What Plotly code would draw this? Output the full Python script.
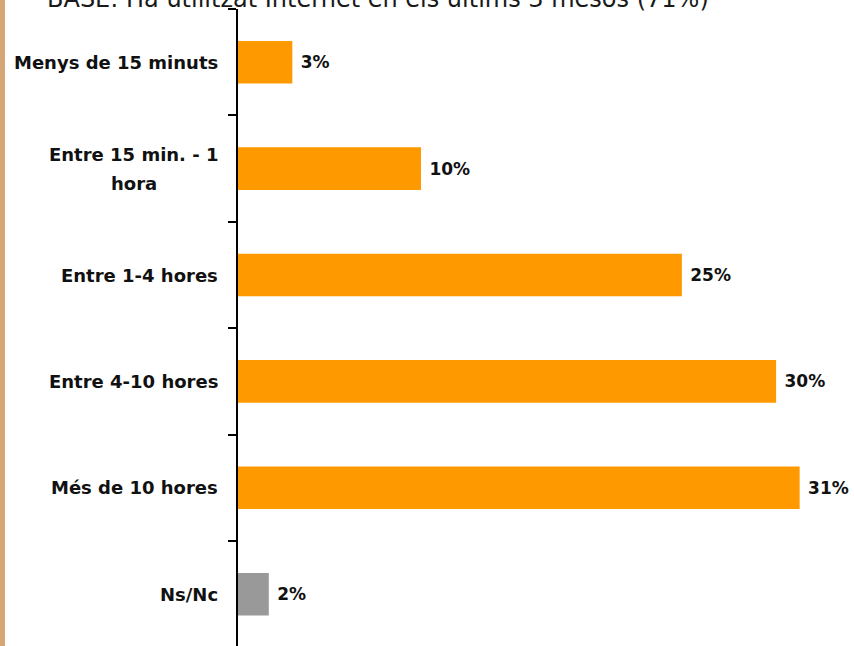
import plotly.graph_objects as go

categories = ["Menys de 15 minuts", "Entre 15 min. - 1<br>hora", "Entre 1-4 hores",
              "Entre 4-10 hores", "Més de 10 hores", "Ns/Nc"]
values = [3.0, 10.1, 24.5, 29.7, 31.0, 1.7]
value_labels = ["3%", "10%", "25%", "30%", "31%", "2%"]
bar_colors = ["#FF9900", "#FF9900", "#FF9900", "#FF9900", "#FF9900", "#999999"]
title_text = "BASE: Ha utilitzat Internet en els últims 3 mesos (71%)"

FONT = "DejaVu Sans"
W, H = 854, 646
ml, mr, mt, mb = 238, 0, 9, 0
band = 106.4
plot_h = H - mt - mb
plot_w = W - ml - mr
line_gap = 29

fig = go.Figure()
fig.add_trace(go.Bar(
    y=list(range(len(categories))), x=values, orientation="h",
    marker=dict(color=bar_colors, line=dict(width=0)),
    text=value_labels, texttemplate=" <b>%{text}</b>", textposition="outside",
    textfont=dict(family=FONT, size=17, color="#111111"),
    cliponaxis=False, width=0.4, hoverinfo="skip",
))

# category labels: single-line labels right aligned; multi-line labels centred line by line
for i, c in enumerate(categories):
    lines = c.split("<br>")
    n = len(lines)
    for k, line in enumerate(lines):
        fig.add_annotation(x=0, xref="x", y=i, yref="y", text="<b>%s</b>" % line,
                           showarrow=False, xanchor="right" if n == 1 else "center",
                           xshift=-18 if n == 1 else -104,
                           yshift=((n - 1) / 2 - k) * line_gap,
                           font=dict(family=FONT, size=18, color="#111111"))

fig.add_annotation(x=(378 - ml) / plot_w, xref="paper", y=1, yref="paper", text=title_text,
                   showarrow=False, xanchor="center", yanchor="middle", yshift=10,
                   font=dict(family=FONT, size=24, color="#1a1a1a"))

fig.add_shape(type="rect", xref="paper", yref="paper",
              x0=-ml / plot_w, x1=(5 - ml) / plot_w, y0=-0.1, y1=1.1,
              fillcolor="#D6A676", line=dict(width=0), layer="above")

fig.update_layout(
    width=W, height=H, margin=dict(l=ml, r=mr, t=mt, b=mb, pad=0),
    paper_bgcolor="white", plot_bgcolor="white", showlegend=False,
    xaxis=dict(range=[0, 34], visible=False, fixedrange=True),
    yaxis=dict(range=[-0.5 + plot_h / band, -0.5], showticklabels=False,
               tickvals=[i + 0.5 for i in range(-1, len(categories))],
               ticks="outside", ticklen=8, tickwidth=2, tickcolor="black",
               showline=True, linecolor="black", linewidth=2, showgrid=False,
               zeroline=False, fixedrange=True),
)

fig.write_html("out.html", config={"displayModeBar": False},
               post_script="document.body.style.margin='0';")
